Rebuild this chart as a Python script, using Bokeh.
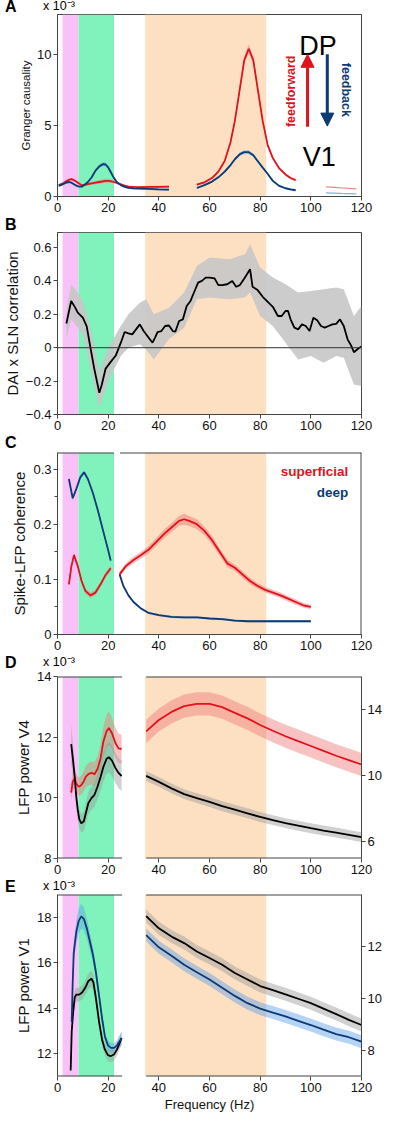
from bokeh.plotting import figure
from bokeh.layouts import column
from bokeh.models import (Range1d, LinearAxis, FixedTicker, Label, BoxAnnotation,
                          Span, Arrow, NormalHead, Div)
from bokeh.embed import file_html
from bokeh.resources import INLINE

# ---------------- data ----------------
# frequency bands (Hz): theta, alpha-beta, gamma
band_theta = [2.0, 8.3]
band_beta = [8.3, 22.3]
band_gamma = [34.6, 82.4]
x_ticks = [0, 20, 40, 60, 80, 100, 120]

# A: Granger causality (x1e-3)
a1_x = [0.5, 2, 3.5, 4.5, 5.5, 6.5, 7.5, 8.5, 9.5, 10.5, 12, 13.5, 15, 16.5, 18, 19, 20, 21,
        22.3, 23.5, 25, 26.5, 28, 30, 33, 36, 40, 44]
a1_ff = [0.8, 0.9, 1.08, 1.17, 1.22, 1.15, 1.04, 0.92, 0.8, 0.8, 0.87, 0.93, 0.97, 1.02, 1.07,
         1.1, 1.1, 1.08, 1.02, 0.95, 0.85, 0.76, 0.7, 0.67, 0.66, 0.67, 0.68, 0.69]
a1_fb = [0.75, 0.85, 0.98, 1.02, 0.97, 0.86, 0.76, 0.7, 0.69, 0.8, 1.02, 1.35, 1.82, 2.12, 2.28,
         2.25, 2.05, 1.72, 1.29, 1.0, 0.8, 0.68, 0.6, 0.57, 0.55, 0.53, 0.5, 0.48]
a1_err = [0.08, 0.08, 0.08, 0.08, 0.08, 0.08, 0.08, 0.08, 0.08, 0.08, 0.09, 0.1, 0.12, 0.13,
          0.14, 0.14, 0.13, 0.12, 0.1, 0.09, 0.08, 0.07, 0.07, 0.07, 0.07, 0.07, 0.07, 0.07]
a2_x = [55, 58, 61, 63.5, 66, 68.3, 70, 72, 73.7, 75.5, 77.3, 79, 81, 83, 85, 87.5, 90, 92, 94]
a2_ff = [0.83, 1.0, 1.3, 1.75, 2.5, 3.82, 5.3, 7.6, 9.58, 10.39, 9.58, 7.6, 5.3, 3.6, 2.7, 1.98,
         1.55, 1.3, 1.15]
a2_ff_err = [0.08, 0.08, 0.08, 0.1, 0.1, 0.12, 0.15, 0.2, 0.28, 0.32, 0.28, 0.2, 0.15, 0.12,
             0.1, 0.1, 0.08, 0.08, 0.08]
a2_fb = [0.6, 0.8, 1.05, 1.35, 1.75, 2.21, 2.62, 2.98, 3.12, 3.12, 2.9, 2.5, 2.03, 1.58, 1.1,
         0.75, 0.58, 0.5, 0.44]
a2_fb_err = [0.07, 0.07, 0.08, 0.08, 0.09, 0.1, 0.11, 0.13, 0.14, 0.14, 0.13, 0.11, 0.1, 0.09,
             0.08, 0.07, 0.07, 0.07, 0.07]
a3_x = [106, 112, 118]
a3_ff = [0.68, 0.6, 0.53]
a3_fb = [0.26, 0.22, 0.19]

# B: DAI x SLN correlation
b_x = [3.5, 5.4, 7, 8, 10, 11.5, 13, 14.5, 16.5, 17.5, 19, 21, 23, 25, 26.5, 28, 29.5, 31, 32.5,
       34, 36, 37.5, 38.5, 39.5, 41, 42.5, 44, 45.5, 46.5, 48, 49.5, 51, 52.5, 54, 55.5, 57,
       58.5, 60, 62, 63.5, 65, 67, 69, 70.5, 72, 74, 76, 77, 79, 81, 83, 85, 87, 88.5, 90, 91,
       92, 93.5, 95, 96.5, 98, 99.5, 101, 102.5, 104, 105.5, 107, 108.5, 110, 111.5, 113,
       114.5, 116, 117, 118.5, 120]
b_r = [0.145, 0.28, 0.24, 0.21, 0.18, 0.13, 0.0, -0.125, -0.27, -0.22, -0.125, -0.085, -0.047,
       0.03, 0.094, 0.086, 0.08, 0.11, 0.14, 0.1, 0.06, 0.03, 0.06, 0.094, 0.1, 0.13, 0.133,
       0.1, 0.096, 0.16, 0.17, 0.25, 0.28, 0.335, 0.39, 0.4, 0.42, 0.42, 0.415, 0.375, 0.375,
       0.38, 0.4, 0.365, 0.375, 0.42, 0.47, 0.365, 0.345, 0.305, 0.275, 0.245, 0.19, 0.19,
       0.22, 0.22, 0.17, 0.12, 0.11, 0.14, 0.13, 0.1, 0.18, 0.165, 0.13, 0.12, 0.13, 0.14,
       0.143, 0.17, 0.13, 0.05, 0.01, -0.027, -0.008, 0.008]
b_bx = [3.5, 5.4, 8, 10, 13, 16.5, 20, 25, 28, 32.5, 35, 38, 44, 50, 55, 60, 68, 74, 76, 80,
        85, 90, 95, 100, 105, 110, 113, 117, 120]
b_hi = [0.22, 0.38, 0.33, 0.28, 0.12, -0.145, 0.0, 0.13, 0.2, 0.27, 0.29, 0.2, 0.24, 0.33,
        0.49, 0.54, 0.53, 0.56, 0.62, 0.48, 0.42, 0.38, 0.33, 0.34, 0.35, 0.36, 0.35, 0.19, 0.25]
b_lo = [0.05, 0.17, 0.12, 0.08, -0.12, -0.36, -0.2, -0.05, 0.0, 0.02, -0.01, -0.07, 0.05, 0.12,
        0.29, 0.3, 0.29, 0.3, 0.33, 0.19, 0.13, 0.03, -0.07, -0.05, -0.09, -0.05, -0.06, -0.22,
        -0.23]

# C: spike-LFP coherence
c1_x = [4.5, 5.5, 6.5, 8, 9.5, 11, 13, 15, 17, 19, 21]
c1_sup = [0.091, 0.124, 0.144, 0.124, 0.097, 0.079, 0.071, 0.076, 0.091, 0.108, 0.12]
c1_deep_x = [4.5, 6, 7.5, 9, 10.5, 12, 14, 16, 18, 20, 21]
c1_deep = [0.282, 0.247, 0.265, 0.285, 0.294, 0.282, 0.256, 0.224, 0.188, 0.153, 0.134]
c2_x = [24.5, 27, 30, 33, 36, 39, 42, 45, 48, 50, 52, 55, 58, 61, 64, 67, 70, 73, 76, 79, 82,
        85, 88, 91, 94, 97, 100]
c2_sup = [0.109, 0.124, 0.135, 0.144, 0.154, 0.168, 0.182, 0.194, 0.206, 0.209, 0.206, 0.2,
          0.188, 0.171, 0.15, 0.129, 0.121, 0.109, 0.097, 0.088, 0.081, 0.076, 0.071, 0.065,
          0.059, 0.053, 0.05]
c2_sup_err = [0.005, 0.005, 0.006, 0.006, 0.007, 0.007, 0.008, 0.008, 0.009, 0.01, 0.009,
              0.009, 0.008, 0.008, 0.007, 0.007, 0.006, 0.006, 0.006, 0.005, 0.005, 0.005,
              0.005, 0.005, 0.005, 0.004, 0.004]
c2_deep_x = [24.5, 26, 28, 30, 33, 36, 40, 45, 50, 55, 60, 65, 70, 75, 80, 85, 90, 95, 100]
c2_deep = [0.109, 0.088, 0.071, 0.059, 0.047, 0.039, 0.035, 0.032, 0.031, 0.031, 0.029,
           0.028, 0.025, 0.024, 0.024, 0.024, 0.024, 0.024, 0.024]

# D: LFP power V4 (x1e-3), low range left axis, high range right axis
d1_x = [5.4, 6.0, 6.8, 7.4, 8.0, 8.6, 9.4, 10.4, 11.2, 12.2, 13.4, 14.6, 15.8, 17.0, 18.1, 19.4,
        20.3, 21.5, 22.9, 24.1, 25.3]
d1_red = [10.17, 10.53, 10.64, 10.47, 10.4, 10.37, 10.42, 10.55, 10.7, 10.78, 10.82, 10.78,
          10.95, 11.3, 11.85, 12.2, 12.3, 12.13, 11.8, 11.63, 11.61]
d1_red_err = [0.3, 0.3, 0.3, 0.3, 0.3, 0.3, 0.32, 0.33, 0.35, 0.37, 0.38, 0.4, 0.42, 0.45,
              0.5, 0.55, 0.55, 0.52, 0.5, 0.48, 0.48]
d1_blk = [11.77, 11.34, 10.69, 10.04, 9.61, 9.29, 9.16, 9.23, 9.5, 9.83, 9.99, 10.1, 10.37,
          10.69, 11.02, 11.29, 11.34, 11.23, 10.98, 10.82, 10.72]
d1_blk_err = [0.65, 0.55, 0.45, 0.4, 0.35, 0.3, 0.3, 0.32, 0.35, 0.37, 0.38, 0.4, 0.42, 0.45,
              0.48, 0.5, 0.5, 0.5, 0.5, 0.5, 0.5]
d2_x = [35, 40, 45, 50, 55, 60, 65, 70, 75, 80, 85, 90, 95, 100, 105, 110, 115, 120]
d2_red = [12.68, 13.37, 13.86, 14.21, 14.35, 14.35, 14.15, 13.8, 13.47, 13.07, 12.72, 12.39,
          12.09, 11.8, 11.5, 11.21, 10.95, 10.68]
d2_blk = [9.99, 9.63, 9.24, 8.89, 8.65, 8.42, 8.16, 7.95, 7.73, 7.51, 7.32, 7.14, 6.98, 6.83,
          6.69, 6.57, 6.43, 6.29]
d2_red_err = 0.7
d2_blk_err = 0.3

# E: LFP power V1 (x1e-3)
e1_x = [5.2, 5.6, 6.2, 6.8, 7.4, 8.6, 9.8, 11.0, 12.2, 13.4, 14.2, 15.2, 16.4, 17.6, 18.7,
        19.9, 21.1, 22.3, 23.5, 25.3]
e1_blk = [11.26, 12.98, 13.84, 14.48, 14.6, 14.6, 14.7, 14.91, 15.2, 15.3, 15.13, 14.41, 13.41,
          12.62, 12.19, 11.94, 11.9, 11.97, 12.19, 12.69]
e1_blk_err = [0.2, 0.25, 0.3, 0.3, 0.3, 0.3, 0.3, 0.32, 0.35, 0.35, 0.35, 0.32, 0.3, 0.28,
              0.27, 0.27, 0.27, 0.27, 0.27, 0.3]
e1_blue_x = [5.6, 6.0, 6.4, 7.4, 8.4, 9.4, 10.4, 11.6, 12.8, 14.0, 15.2, 16.4, 17.6, 18.7,
             19.9, 21.1, 22.3, 23.5, 25.3]
e1_blue = [13.4, 15.13, 16.42, 17.35, 17.85, 18.04, 17.93, 17.5, 16.92, 16.35, 15.56, 14.56,
           13.55, 12.76, 12.37, 12.26, 12.26, 12.37, 12.69]
e1_blue_err = [0.3, 0.4, 0.45, 0.5, 0.55, 0.55, 0.5, 0.45, 0.4, 0.35, 0.3, 0.25, 0.22, 0.2,
               0.2, 0.2, 0.2, 0.22, 0.3]
e2_x = [35, 40, 45, 50, 55, 60, 65, 70, 75, 80, 85, 90, 95, 100, 105, 110, 115, 120]
e2_blk = [13.17, 12.7, 12.38, 12.13, 11.81, 11.56, 11.3, 10.98, 10.73, 10.48, 10.32, 10.16,
          9.99, 9.82, 9.61, 9.4, 9.18, 8.98]
e2_blue = [12.44, 11.97, 11.64, 11.3, 11.01, 10.73, 10.41, 10.1, 9.82, 9.61, 9.46, 9.31, 9.14,
           8.98, 8.8, 8.63, 8.51, 8.34]
e2_err = 0.25

# ---------------- styling ----------------
FONT = "Liberation Sans"
RED = "#e2121c"
BLUE = "#0c3a74"
BLACK = "#000000"
RED_BAND = "#f07878"
BLUE_BAND = "#5c9ee8"
GRAY_BAND = "#9a9a9a"
PINK = "#f8c2f8"
GREEN = "#80f2bc"
ORANGE = "#fde0c2"
SPINE = "#444444"
W = 384
BL, BR = 48, 22
FRAME_H = 182
HEAD_H = 12


def add(a, b, s=1):
    if isinstance(b, (int, float)):
        b = [b] * len(a)
    return [u + s * v for u, v in zip(a, b)]


def style_axis(ax, label_size="15px"):
    ax.axis_line_color = SPINE
    ax.major_tick_line_color = SPINE
    ax.minor_tick_line_color = None
    ax.major_tick_in = 0
    ax.major_tick_out = 4
    ax.major_label_text_font = FONT
    ax.major_label_text_font_size = "13px"
    ax.major_label_text_color = "#111111"
    ax.major_label_standoff = 2
    ax.axis_label_text_font = FONT
    ax.axis_label_text_font_size = label_size
    ax.axis_label_text_font_style = "normal"
    ax.axis_label_text_color = "#111111"
    ax.axis_label_standoff = 2


def header(letter, mult):
    html = ('<div style="position:relative;width:%dpx;height:%dpx;overflow:visible;'
            'font-family:\'Liberation Sans\',Arial,sans-serif;color:#000;">' % (W, HEAD_H))
    html += ('<span style="position:absolute;left:5px;top:0px;font-size:16px;'
             'font-weight:bold;line-height:13px;">%s</span>' % letter)
    if mult:
        html += ('<span style="position:absolute;left:%dpx;top:0px;font-size:12.5px;'
                 'line-height:12px;white-space:nowrap;">x 10\u207b\u00b3</span>' % (BL - 5))
    html += '</div>'
    return Div(text=html, width=W, height=HEAD_H, margin=(0, 0, 0, 0))


def make_fig(ymin, ymax, yticks, ylabel, top=2, bottom=22, xlabel=None, label_size="15px"):
    h = top + FRAME_H + bottom
    p = figure(width=W, height=h, x_range=Range1d(0, 120), y_range=Range1d(ymin, ymax),
               output_backend="svg", toolbar_location=None, title=None,
               min_border_left=BL, min_border_right=BR, min_border_top=top,
               min_border_bottom=bottom, margin=(0, 0, 0, 0))
    p.xgrid.visible = False
    p.ygrid.visible = False
    p.outline_line_color = SPINE
    p.background_fill_color = "white"
    p.border_fill_color = "white"
    p.xaxis.ticker = FixedTicker(ticks=x_ticks)
    p.yaxis.ticker = FixedTicker(ticks=yticks)
    p.yaxis.axis_label = ylabel
    if xlabel:
        p.xaxis.axis_label = xlabel
    for ax in p.xaxis:
        style_axis(ax, "13px")
    for ax in p.yaxis:
        style_axis(ax, label_size)
    return p


def bands(p):
    for c, e in zip([PINK, GREEN, ORANGE], [band_theta, band_beta, band_gamma]):
        p.add_layout(BoxAnnotation(left=e[0], right=e[1], fill_color=c, fill_alpha=1,
                                   line_alpha=0, level="underlay"))


def spines(p, segs):
    p.segment(x0=[s[0] for s in segs], x1=[s[1] for s in segs],
              y0=[s[2] for s in segs], y1=[s[3] for s in segs],
              line_color=SPINE, line_width=2)


LW = 1.8
items = []

# ---- A ----
pA = make_fig(0, 12.8, [0, 5, 10], "Granger causality", label_size="11.5px")
bands(pA)
pA.varea(x=a1_x, y1=add(a1_ff, a1_err, -1), y2=add(a1_ff, a1_err), fill_color=RED_BAND, fill_alpha=0.5)
pA.varea(x=a1_x, y1=add(a1_fb, a1_err, -1), y2=add(a1_fb, a1_err), fill_color=BLUE_BAND, fill_alpha=0.5)
pA.varea(x=a2_x, y1=add(a2_ff, a2_ff_err, -1), y2=add(a2_ff, a2_ff_err), fill_color=RED_BAND, fill_alpha=0.5)
pA.varea(x=a2_x, y1=add(a2_fb, a2_fb_err, -1), y2=add(a2_fb, a2_fb_err), fill_color=BLUE_BAND, fill_alpha=0.5)
pA.line(a1_x, a1_ff, line_color=RED, line_width=LW)
pA.line(a1_x, a1_fb, line_color=BLUE, line_width=LW)
pA.line(a2_x, a2_ff, line_color=RED, line_width=LW)
pA.line(a2_x, a2_fb, line_color=BLUE, line_width=LW)
pA.line(a3_x, a3_ff, line_color="#f08c8c", line_width=1.2)
pA.line(a3_x, a3_fb, line_color="#7fb2e4", line_width=1.2)
pA.add_layout(Label(x=102.8, y=10.55, text="DP", text_font=FONT, text_font_size="27px",
                    text_color="#000000", text_align="center", text_baseline="alphabetic"))
pA.add_layout(Label(x=103.3, y=2.79, text="V1", text_font=FONT, text_font_size="27px",
                    text_color="#000000", text_align="center", text_baseline="alphabetic"))
pA.add_layout(Arrow(end=NormalHead(size=13, fill_color=RED, line_color=RED),
                    x_start=98.7, y_start=4.9, x_end=98.7, y_end=10.0,
                    line_color=RED, line_width=3))
pA.add_layout(Arrow(end=NormalHead(size=13, fill_color=BLUE, line_color=BLUE),
                    x_start=106.5, y_start=10.0, x_end=106.5, y_end=4.95,
                    line_color=BLUE, line_width=3))
pA.add_layout(Label(x=92.2, y=7.4, text="feedforward", angle=1.5708, text_font=FONT,
                    text_font_size="12.5px", text_font_style="bold", text_color=RED,
                    text_align="center", text_baseline="middle"))
pA.add_layout(Label(x=113.7, y=7.5, text="feedback", angle=-1.5708, text_font=FONT,
                    text_font_size="12.5px", text_font_style="bold", text_color=BLUE,
                    text_align="center", text_baseline="middle"))
items += [header("A", True), pA]

# ---- B ----
pB = make_fig(-0.4, 0.69, [-0.4, -0.2, 0, 0.2, 0.4, 0.6], "DAI x SLN correlation")
pB.yaxis.major_label_overrides = {0: "0"}
bands(pB)
pB.varea(x=b_bx, y1=b_lo, y2=b_hi, fill_color="#c6c6c6", fill_alpha=0.9)
pB.add_layout(Span(location=0, dimension="width", line_color="#333333", line_width=1))
pB.line(b_x, b_r, line_color=BLACK, line_width=LW)
items += [header("B", False), pB]

# ---- C ----
pC = make_fig(0, 0.33, [0, 0.1, 0.2, 0.3], "Spike-LFP coherence", top=4)
pC.yaxis.ticker = FixedTicker(ticks=[0, 0.1, 0.2, 0.3], minor_ticks=[0.05, 0.15, 0.25])
pC.yaxis.minor_tick_line_color = SPINE
pC.yaxis.minor_tick_in = 0
pC.yaxis.minor_tick_out = 3
pC.yaxis.major_label_overrides = {0: "0"}
pC.outline_line_color = None
bands(pC)
spines(pC, [(0, 22.3, 0.33, 0.33), (24.7, 120, 0.33, 0.33), (120, 120, 0, 0.33)])
pC.varea(x=c1_x, y1=add(c1_sup, 0.005, -1), y2=add(c1_sup, 0.005), fill_color=RED_BAND, fill_alpha=0.5)
pC.varea(x=c1_deep_x, y1=add(c1_deep, 0.004, -1), y2=add(c1_deep, 0.004), fill_color=BLUE_BAND, fill_alpha=0.5)
pC.varea(x=c2_x, y1=add(c2_sup, c2_sup_err, -1), y2=add(c2_sup, c2_sup_err), fill_color=RED_BAND, fill_alpha=0.5)
pC.varea(x=c2_deep_x, y1=add(c2_deep, 0.002, -1), y2=add(c2_deep, 0.002), fill_color=BLUE_BAND, fill_alpha=0.5)
pC.line(c1_x, c1_sup, line_color=RED, line_width=LW)
pC.line(c1_deep_x, c1_deep, line_color=BLUE, line_width=LW)
pC.line(c2_x, c2_sup, line_color=RED, line_width=LW)
pC.line(c2_deep_x, c2_deep, line_color=BLUE, line_width=LW)
pC.add_layout(Label(x=114.8, y=0.295, text="superficial", text_font=FONT, text_font_size="13.5px",
                    text_font_style="bold", text_color=RED, text_align="right",
                    text_baseline="middle"))
pC.add_layout(Label(x=114.8, y=0.258, text="deep", text_font=FONT, text_font_size="13.5px",
                    text_font_style="bold", text_color=BLUE, text_align="right",
                    text_baseline="middle"))
items += [header("C", False), pC]


def broken(p, ymin, ymax):
    p.outline_line_color = None
    p.xaxis.axis_line_color = None
    spines(p, [(0, 25.5, ymax, ymax), (35, 120, ymax, ymax),
               (0, 25.5, ymin, ymin), (35, 120, ymin, ymin)])


def right_axis(p, lo, hi, ticks):
    p.extra_y_ranges = {"right": Range1d(lo, hi)}
    ax = LinearAxis(y_range_name="right", ticker=FixedTicker(ticks=ticks))
    style_axis(ax)
    p.add_layout(ax, "right")


# ---- D ----
pD = make_fig(8, 14, [8, 10, 12, 14], "LFP power V4", top=8)
right_axis(pD, 5, 16, [6, 10, 14])
bands(pD)
broken(pD, 8, 14)
pD.varea(x=d1_x, y1=add(d1_red, d1_red_err, -1), y2=add(d1_red, d1_red_err), fill_color=RED_BAND, fill_alpha=0.45)
pD.varea(x=d1_x, y1=add(d1_blk, d1_blk_err, -1), y2=add(d1_blk, d1_blk_err), fill_color=GRAY_BAND, fill_alpha=0.45)
pD.line(d1_x, d1_red, line_color=RED, line_width=LW)
pD.line(d1_x, d1_blk, line_color=BLACK, line_width=LW)
pD.varea(x=d2_x, y1=add(d2_red, d2_red_err, -1), y2=add(d2_red, d2_red_err), fill_color=RED_BAND, fill_alpha=0.45, y_range_name="right")
pD.varea(x=d2_x, y1=add(d2_blk, d2_blk_err, -1), y2=add(d2_blk, d2_blk_err), fill_color=GRAY_BAND, fill_alpha=0.45, y_range_name="right")
pD.line(d2_x, d2_red, line_color=RED, line_width=LW, y_range_name="right")
pD.line(d2_x, d2_blk, line_color=BLACK, line_width=LW, y_range_name="right")
items += [header("D", True), pD]

# ---- E ----
pE = make_fig(11, 19, [12, 14, 16, 18], "LFP power V1", bottom=38, xlabel="Frequency (Hz)")
right_axis(pE, 7, 14, [8, 10, 12])
bands(pE)
broken(pE, 11, 19)
pE.varea(x=e1_x, y1=add(e1_blk, e1_blk_err, -1), y2=add(e1_blk, e1_blk_err), fill_color=GRAY_BAND, fill_alpha=0.45)
pE.varea(x=e1_blue_x, y1=add(e1_blue, e1_blue_err, -1), y2=add(e1_blue, e1_blue_err), fill_color=BLUE_BAND, fill_alpha=0.45)
pE.line(e1_x, e1_blk, line_color=BLACK, line_width=LW)
pE.line(e1_blue_x, e1_blue, line_color=BLUE, line_width=LW)
pE.varea(x=e2_x, y1=add(e2_blk, e2_err, -1), y2=add(e2_blk, e2_err), fill_color=GRAY_BAND, fill_alpha=0.45, y_range_name="right")
pE.varea(x=e2_x, y1=add(e2_blue, e2_err, -1), y2=add(e2_blue, e2_err), fill_color=BLUE_BAND, fill_alpha=0.45, y_range_name="right")
pE.line(e2_x, e2_blk, line_color=BLACK, line_width=LW, y_range_name="right")
pE.line(e2_x, e2_blue, line_color=BLUE, line_width=LW, y_range_name="right")
items += [header("E", True), pE]

layout = column(*items, spacing=0)
open("out.html", "w").write(file_html(layout, INLINE))
